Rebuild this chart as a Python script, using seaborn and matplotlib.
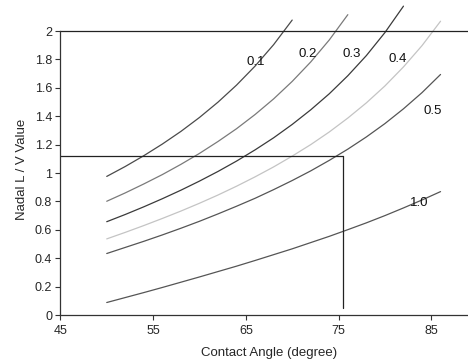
import matplotlib
matplotlib.use("Agg")
import matplotlib.pyplot as plt
import seaborn as sns
import pandas as pd

# values (every 2 degrees of contact angle)
angle_01 = [50, 52, 54, 56, 58, 60, 62, 64, 66, 68, 70]
lv_01 = [0.976, 1.046, 1.122, 1.204, 1.293, 1.391, 1.499, 1.619, 1.753, 1.904, 2.077]

angle_02 = [50, 52, 54, 56, 58, 60, 62, 64, 66, 68, 70, 72, 74, 76]
lv_02 = [0.801, 0.860, 0.923, 0.989, 1.061, 1.138, 1.222, 1.312, 1.412,
         1.522, 1.645, 1.782, 1.937, 2.115]

angle_03 = [50, 52, 54, 56, 58, 60, 62, 64, 66, 68, 70, 72, 74, 76, 78, 80, 82]
lv_03 = [0.657, 0.708, 0.762, 0.819, 0.879, 0.943, 1.011, 1.084, 1.163,
         1.248, 1.342, 1.445, 1.558, 1.685, 1.827, 1.989, 2.175]

angle_04 = [50, 52, 54, 56, 58, 60, 62, 64, 66, 68, 70, 72, 74, 76, 78, 80, 82, 84, 86]
lv_04 = [0.536, 0.582, 0.630, 0.680, 0.732, 0.787, 0.845, 0.907, 0.973,
         1.043, 1.119, 1.200, 1.289, 1.387, 1.494, 1.613, 1.747, 1.897, 2.069]

angle_05 = angle_04
lv_05 = [0.433, 0.476, 0.519, 0.564, 0.611, 0.660, 0.712, 0.766, 0.822,
         0.883, 0.947, 1.015, 1.089, 1.168, 1.254, 1.348, 1.452, 1.566, 1.694]

angle_10 = angle_04
lv_10 = [0.088, 0.123, 0.158, 0.194, 0.231, 0.268, 0.306, 0.344, 0.384,
         0.425, 0.466, 0.510, 0.554, 0.601, 0.649, 0.700, 0.754, 0.810, 0.869]

curve_names = ["0.1", "0.2", "0.3", "0.4", "0.5", "1.0"]
curve_colors = ["#4a4a4a", "#7a7a7a", "#3a3a3a", "#c4c4c4", "#555555", "#555555"]

# where the labels sit next to each curve
label_x = [66.1, 71.7, 76.4, 81.4, 85.1, 83.7]
label_y = [1.78, 1.84, 1.84, 1.80, 1.44, 0.79]

# the read-off guide lines
guide_angle = 75.5
guide_lv = 1.12

frames = []
for name, xs, ys in zip(curve_names,
                        [angle_01, angle_02, angle_03, angle_04, angle_05, angle_10],
                        [lv_01, lv_02, lv_03, lv_04, lv_05, lv_10]):
    frames.append(pd.DataFrame({"angle": xs, "lv": ys, "mu": name}))
df = pd.concat(frames, ignore_index=True)

sns.set_style("ticks")
plt.rcParams["font.family"] = ["Liberation Sans", "DejaVu Sans"]

fig = plt.figure(figsize=(4.68, 3.61), dpi=100)
ax = fig.add_axes([0.129, 0.1274, 0.871, 0.8654])

sns.lineplot(data=df, x="angle", y="lv", hue="mu",
             palette=dict(zip(curve_names, curve_colors)),
             linewidth=0.9, legend=False, ax=ax, clip_on=False)

for name, lx, ly in zip(curve_names, label_x, label_y):
    ax.text(lx, ly, name, fontsize=9.5, ha="center", va="center", color="#111111")

ax.plot([45, guide_angle], [guide_lv, guide_lv], color="#222222", lw=0.9)
ax.plot([guide_angle, guide_angle], [0.05, guide_lv], color="#222222", lw=0.9)
ax.axhline(2, color="#222222", lw=0.9)

ax.set_xlim(45, 88.96)
ax.set_ylim(0, 2.2)
ax.set_xticks([45, 55, 65, 75, 85])
ax.set_yticks([0, 0.2, 0.4, 0.6, 0.8, 1, 1.2, 1.4, 1.6, 1.8, 2])
ax.set_yticklabels(["0", "0.2", "0.4", "0.6", "0.8", "1", "1.2", "1.4", "1.6", "1.8", "2"])
ax.tick_params(labelsize=9, length=3.5, width=0.8, color="#333333")
ax.tick_params(axis="x", pad=4)
ax.tick_params(axis="y", pad=2.5)

sns.despine(ax=ax, top=True, right=True)
ax.spines["left"].set_bounds(0, 2)
for s in ["left", "bottom"]:
    ax.spines[s].set_linewidth(0.9)
    ax.spines[s].set_color("#333333")

ax.set_xlabel("Contact Angle (degree)", fontsize=9.5)
ax.set_ylabel("Nadal L / V Value", fontsize=9.5)
ax.xaxis.set_label_coords(0.511, -0.104)
ax.yaxis.set_label_coords(-0.079, 0.465)

fig.savefig("out.png", dpi=100)
